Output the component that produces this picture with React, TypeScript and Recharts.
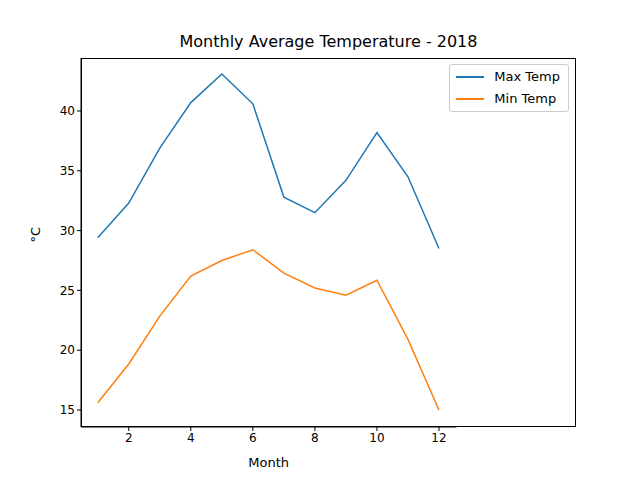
import { LineChart, Line, XAxis, YAxis, Legend } from "recharts";

const months = [1, 2, 3, 4, 5, 6, 7, 8, 9, 10, 11, 12];
const maxTemp = [29.4, 32.3, 36.9, 40.7, 43.1, 40.6, 32.8, 31.5, 34.2, 38.2, 34.5, 28.5];
const minTemp = [15.6, 18.85, 22.85, 26.2, 27.5, 28.4, 26.45, 25.2, 24.6, 25.85, 20.9, 15.0];
const xTicks = [2, 4, 6, 8, 10, 12];
const yTicks = [15, 20, 25, 30, 35, 40];

const data = months.map((m, i) => ({ month: m, max: maxTemp[i], min: minTemp[i] }));

const font = "DejaVu Sans, sans-serif";
const tickStyle = { fontSize: 12, fill: "#000", fontFamily: font };

function LegendBox() {
  const items = [
    { name: "Max Temp", color: "#1f77b4" },
    { name: "Min Temp", color: "#ff7f0e" },
  ];
  return (
    <div
      style={{
        border: "1px solid #ccc",
        borderRadius: 3,
        background: "#fff",
        padding: "1px 8px 1px 6px",
        fontFamily: font,
        fontSize: 13,
        lineHeight: "22px",
      }}
    >
      {items.map((it) => (
        <div key={it.name} style={{ display: "flex", alignItems: "center" }}>
          <span style={{ display: "inline-block", width: 28, height: 2, background: it.color, marginRight: 10 }} />
          {it.name}
        </div>
      ))}
    </div>
  );
}

export default function App() {
  return (
    <div style={{ position: "absolute", left: 0, top: 0, width: 640, height: 480, background: "#fff" }}>
      <div
        style={{
          position: "absolute",
          top: 32,
          left: 81,
          width: 495,
          textAlign: "center",
          fontFamily: font,
          fontSize: 16,
        }}
      >
        Monthly Average Temperature - 2018
      </div>
      <LineChart width={640} height={480} data={data} margin={{ top: 58, right: 64, bottom: 23, left: 31 }}>
        <XAxis
          dataKey="month"
          type="number"
          domain={[0.46, 12.56]}
          ticks={xTicks}
          height={30}
          tickSize={4}
          tick={tickStyle}
          stroke="#000"
          allowDataOverflow
          label={{ value: "Month", position: "insideBottom", offset: -10, style: { ...tickStyle, fontSize: 13 } }}
        />
        <YAxis
          type="number"
          domain={[13.58, 44.43]}
          ticks={yTicks}
          width={50}
          tickSize={4}
          tick={tickStyle}
          stroke="#000"
          allowDataOverflow
          label={{ value: "°C", angle: -90, position: "insideLeft", offset: 4, style: { ...tickStyle, fontSize: 13 } }}
        />
        <Legend
          layout="vertical"
          verticalAlign="top"
          align="right"
          wrapperStyle={{ top: 64, right: 71, left: "auto", width: "auto" }}
          content={() => <LegendBox />}
        />
        <Line dataKey="max" name="Max Temp" stroke="#1f77b4" strokeWidth={1.5} dot={false} isAnimationActive={false} />
        <Line dataKey="min" name="Min Temp" stroke="#ff7f0e" strokeWidth={1.5} dot={false} isAnimationActive={false} />
      </LineChart>
      <div
        style={{
          position: "absolute",
          left: 81,
          top: 58,
          width: 495,
          height: 369,
          boxSizing: "border-box",
          border: "1px solid #000",
          pointerEvents: "none",
        }}
      />
    </div>
  );
}
